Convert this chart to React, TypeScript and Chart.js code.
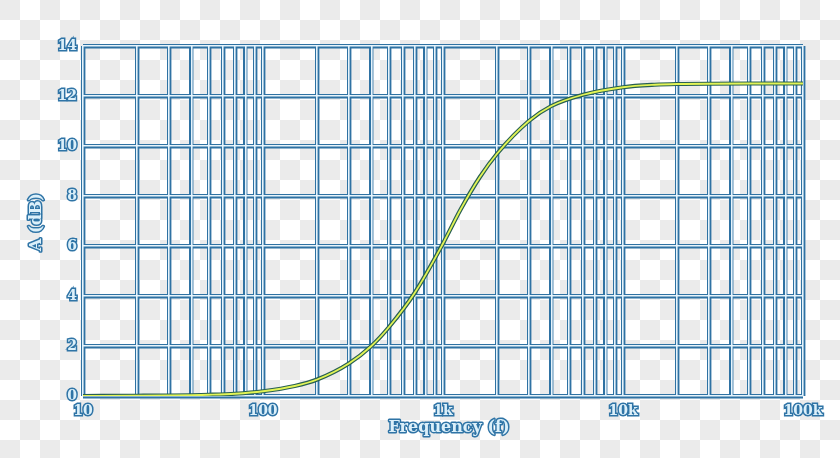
import { useEffect, useRef } from 'react'
import { Chart, registerables } from 'chart.js'

Chart.register(...registerables)

// frequency response (Hz -> dB)
const freqs = [10, 20, 30, 50, 70, 100, 150, 200, 300, 400, 500, 700, 1000, 1250, 1600, 2000, 3000, 4000, 6000, 10000, 15000, 20000, 50000, 100000]
const gain = [0, 0.01, 0.02, 0.05, 0.09, 0.19, 0.4, 0.66, 1.3, 2.0, 2.75, 4.15, 6.1, 7.45, 8.75, 9.7, 11.0, 11.6, 12.05, 12.35, 12.45, 12.48, 12.5, 12.5]

const gridFreqs = [
    10, 20, 30, 40, 50, 60, 70, 80, 90,
    100, 200, 300, 400, 500, 600, 700, 800, 900,
    1000, 2000, 3000, 4000, 5000, 6000, 7000, 8000, 9000,
    10000, 20000, 30000, 40000, 50000, 60000, 70000, 80000, 90000,
    100000,
]
const decadeLabels: Record<number, string> = { 10: '10', 100: '100', 1000: '1k', 10000: '10k', 100000: '100k' }

const xTitle = 'Frequency (f)'
const yTitle = 'A (dB)'

const DARK = '#2f72a3'
const LIGHT = '#e6f4fc'
const TEXT_FILL = '#dcf0fa'
const TEXT_STROKE = '#2f74a6'
const FONT = "'DejaVu Serif', serif"

const setTicks = (scale: any) => {
    scale.ticks = gridFreqs.map(v => ({ value: v }))
}

const outlinedTitles = {
    id: 'outlinedTitles',
    afterDraw(chart: any) {
        const { ctx, chartArea } = chart
        ctx.save()
        ctx.font = `bold 16px ${FONT}`
        ctx.lineJoin = 'round'
        ctx.lineWidth = 3
        ctx.strokeStyle = TEXT_STROKE
        ctx.fillStyle = TEXT_FILL
        ctx.textAlign = 'center'
        ctx.textBaseline = 'middle'
        const cx = (chartArea.left + chartArea.right) / 2 + 6
        const by = chartArea.bottom + 32
        ctx.strokeText(xTitle, cx, by)
        ctx.fillText(xTitle, cx, by)
        ctx.translate(chartArea.left - 46, (chartArea.top + chartArea.bottom) / 2 + 1)
        ctx.rotate(-Math.PI / 2)
        ctx.strokeText(yTitle, 0, 0)
        ctx.fillText(yTitle, 0, 0)
        ctx.restore()
    },
}

const FreqChart = () => {
    const chartRef = useRef<HTMLCanvasElement>(null)

    useEffect(() => {
        if (!chartRef.current) return
        const points = freqs.map((f, i) => ({ x: f, y: gain[i] }))
        const tickFont = { family: FONT, size: 14, weight: 'bold' as const }

        const myChart = new Chart(chartRef.current, {
            type: 'line',
            data: {
                datasets: [
                    {
                        label: 'A inner',
                        data: points,
                        borderColor: '#e2f455',
                        borderWidth: 1.8,
                        pointRadius: 0,
                        cubicInterpolationMode: 'monotone',
                        order: 0,
                    },
                    {
                        label: 'A outer',
                        data: points,
                        borderColor: '#285f52',
                        borderWidth: 4.2,
                        pointRadius: 0,
                        cubicInterpolationMode: 'monotone',
                        order: 1,
                    },
                ],
            },
            options: {
                animation: false,
                responsive: false,
                devicePixelRatio: 1,
                layout: { padding: { top: 46, right: 37, left: 0, bottom: 0 } },
                plugins: { legend: { display: false }, tooltip: { enabled: false } },
                scales: {
                    x: {
                        type: 'logarithmic',
                        min: 10,
                        max: 100000,
                        afterBuildTicks: setTicks,
                        afterFit: (s: any) => { s.height = 62 },
                        grid: { color: DARK, lineWidth: 4.4, drawTicks: false, z: -2 },
                        border: { display: false },
                        ticks: {
                            autoSkip: false,
                            maxRotation: 0,
                            padding: 7,
                            font: tickFont,
                            color: TEXT_FILL,
                            textStrokeColor: TEXT_STROKE,
                            textStrokeWidth: 3,
                            callback: (v: any) => decadeLabels[v] ?? '',
                        },
                    },
                    y: {
                        type: 'linear',
                        min: 0,
                        max: 14,
                        afterFit: (s: any) => { s.width = 83 },
                        grid: { color: DARK, lineWidth: 4.4, drawTicks: false, z: -2 },
                        border: { display: false },
                        ticks: {
                            stepSize: 2,
                            padding: 6,
                            font: tickFont,
                            color: TEXT_FILL,
                            textStrokeColor: TEXT_STROKE,
                            textStrokeWidth: 3,
                        },
                    },
                    x2: {
                        type: 'logarithmic',
                        position: 'bottom',
                        min: 10,
                        max: 100000,
                        afterBuildTicks: setTicks,
                        afterFit: (s: any) => { s.height = 0 },
                        grid: { color: LIGHT, lineWidth: 1.6, drawTicks: false, z: -1 },
                        border: { display: false },
                        ticks: { display: false },
                    },
                    y2: {
                        type: 'linear',
                        position: 'left',
                        min: 0,
                        max: 14,
                        afterFit: (s: any) => { s.width = 0 },
                        grid: { color: LIGHT, lineWidth: 1.6, drawTicks: false, z: -1 },
                        border: { display: false },
                        ticks: { display: false, stepSize: 2 },
                    },
                },
            } as any,
            plugins: [outlinedTitles],
        })

        return () => {
            myChart.destroy()
        }
    }, [])

    return <canvas ref={chartRef} width={840} height={458} />
}

export default function App() {
    return (
        <div
            style={{
                position: 'fixed',
                left: 0,
                top: 0,
                width: 840,
                height: 458,
                background: 'conic-gradient(#fff 0 25%, #ebebeb 0 50%, #fff 0 75%, #ebebeb 0) 0 0 / 40px 40px',
            }}
        >
            <FreqChart />
        </div>
    )
}
